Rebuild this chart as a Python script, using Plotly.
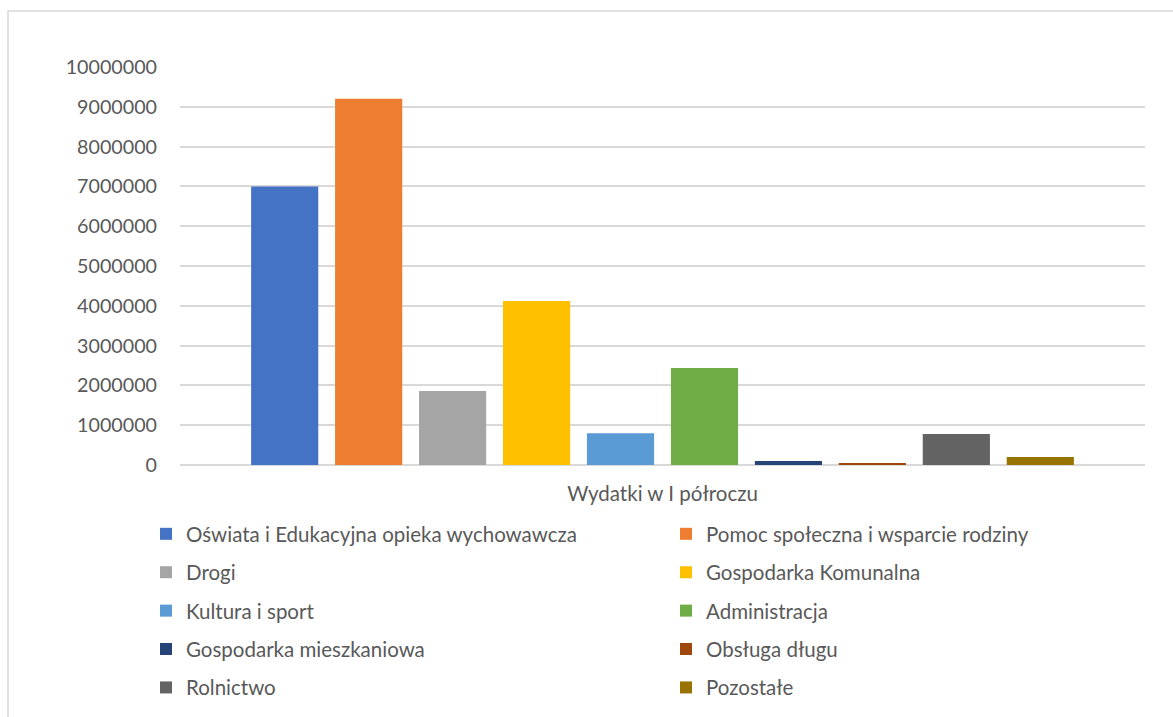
import plotly.graph_objects as go

category = ["Wydatki w I półroczu"]
series_names = [
    "Oświata i Edukacyjna opieka wychowawcza",
    "Pomoc społeczna i wsparcie rodziny",
    "Drogi",
    "Gospodarka Komunalna",
    "Kultura i sport",
    "Administracja",
    "Gospodarka mieszkaniowa",
    "Obsługa długu",
    "Rolnictwo",
    "Pozostałe",
]
series_values = [7000000, 9200000, 1860000, 4120000, 800000, 2440000, 100000, 30000, 780000, 200000]
colors = ["#4472C4", "#ED7D31", "#A5A5A5", "#FFC000", "#5B9BD5",
          "#70AD47", "#264478", "#9E480E", "#636363", "#997300"]
y_ticks = [0, 1000000, 2000000, 3000000, 4000000, 5000000, 6000000, 7000000, 8000000, 9000000, 10000000]

FONT = "Lato, Carlito, 'Liberation Sans', sans-serif"
TXT = "#595959"

W, H = 1173, 717
L, R, T, B = 180, 28, 67, 252
pw, ph = W - L - R, H - T - B

def px(x):
    return (x - L) / pw

def py(y):
    return (H - B - y) / ph

fig = go.Figure()
for i, (name, val, col) in enumerate(zip(series_names, series_values, colors)):
    fig.add_trace(go.Bar(
        x=category, y=[val], name=name, marker=dict(color=col, line=dict(width=0)),
        legend="legend" if i % 2 == 0 else "legend2",
        legendgroup=name,
    ))

legend_common = dict(
    font=dict(family=FONT, size=20.5, color=TXT),
    orientation="v", xanchor="left", yanchor="top",
    tracegroupgap=8.75, bgcolor="rgba(0,0,0,0)", itemclick=False,
)

fig.update_layout(
    width=W, height=H, autosize=False,
    margin=dict(l=L, r=R, t=T, b=B, autoexpand=False),
    paper_bgcolor="white", plot_bgcolor="white",
    barmode="group", bargap=0.13, bargroupgap=0.2,
    font=dict(family=FONT, color=TXT, size=20.5),
    legend=dict(x=px(146), y=py(514), **legend_common),
    legend2=dict(x=px(666), y=py(514), **legend_common),
    xaxis=dict(showgrid=False, showline=False, ticks="outside", ticklen=10,
               tickcolor="rgba(0,0,0,0)", tickfont=dict(family=FONT, size=20.5, color=TXT)),
    yaxis=dict(range=[0, 10000000], tickvals=y_ticks, tickformat="d",
               showgrid=True, gridcolor="#D9D9D9", gridwidth=1.5,
               zeroline=True, zerolinecolor="#D9D9D9", zerolinewidth=1.5,
               showline=False, ticks="", ticklabelstandoff=22,
               tickfont=dict(family=FONT, size=19.7, color=TXT)),
    shapes=[dict(type="rect", xref="paper", yref="paper",
                 x0=px(8), x1=px(1195), y0=py(735), y1=py(11),
                 line=dict(color="#D9D9D9", width=1.5), fillcolor="rgba(0,0,0,0)", layer="below")],
)

fig.write_html(
    "out.html",
    config={"displayModeBar": False, "responsive": False},
    post_script="document.body.style.margin='0';document.body.style.overflow='hidden';",
)
